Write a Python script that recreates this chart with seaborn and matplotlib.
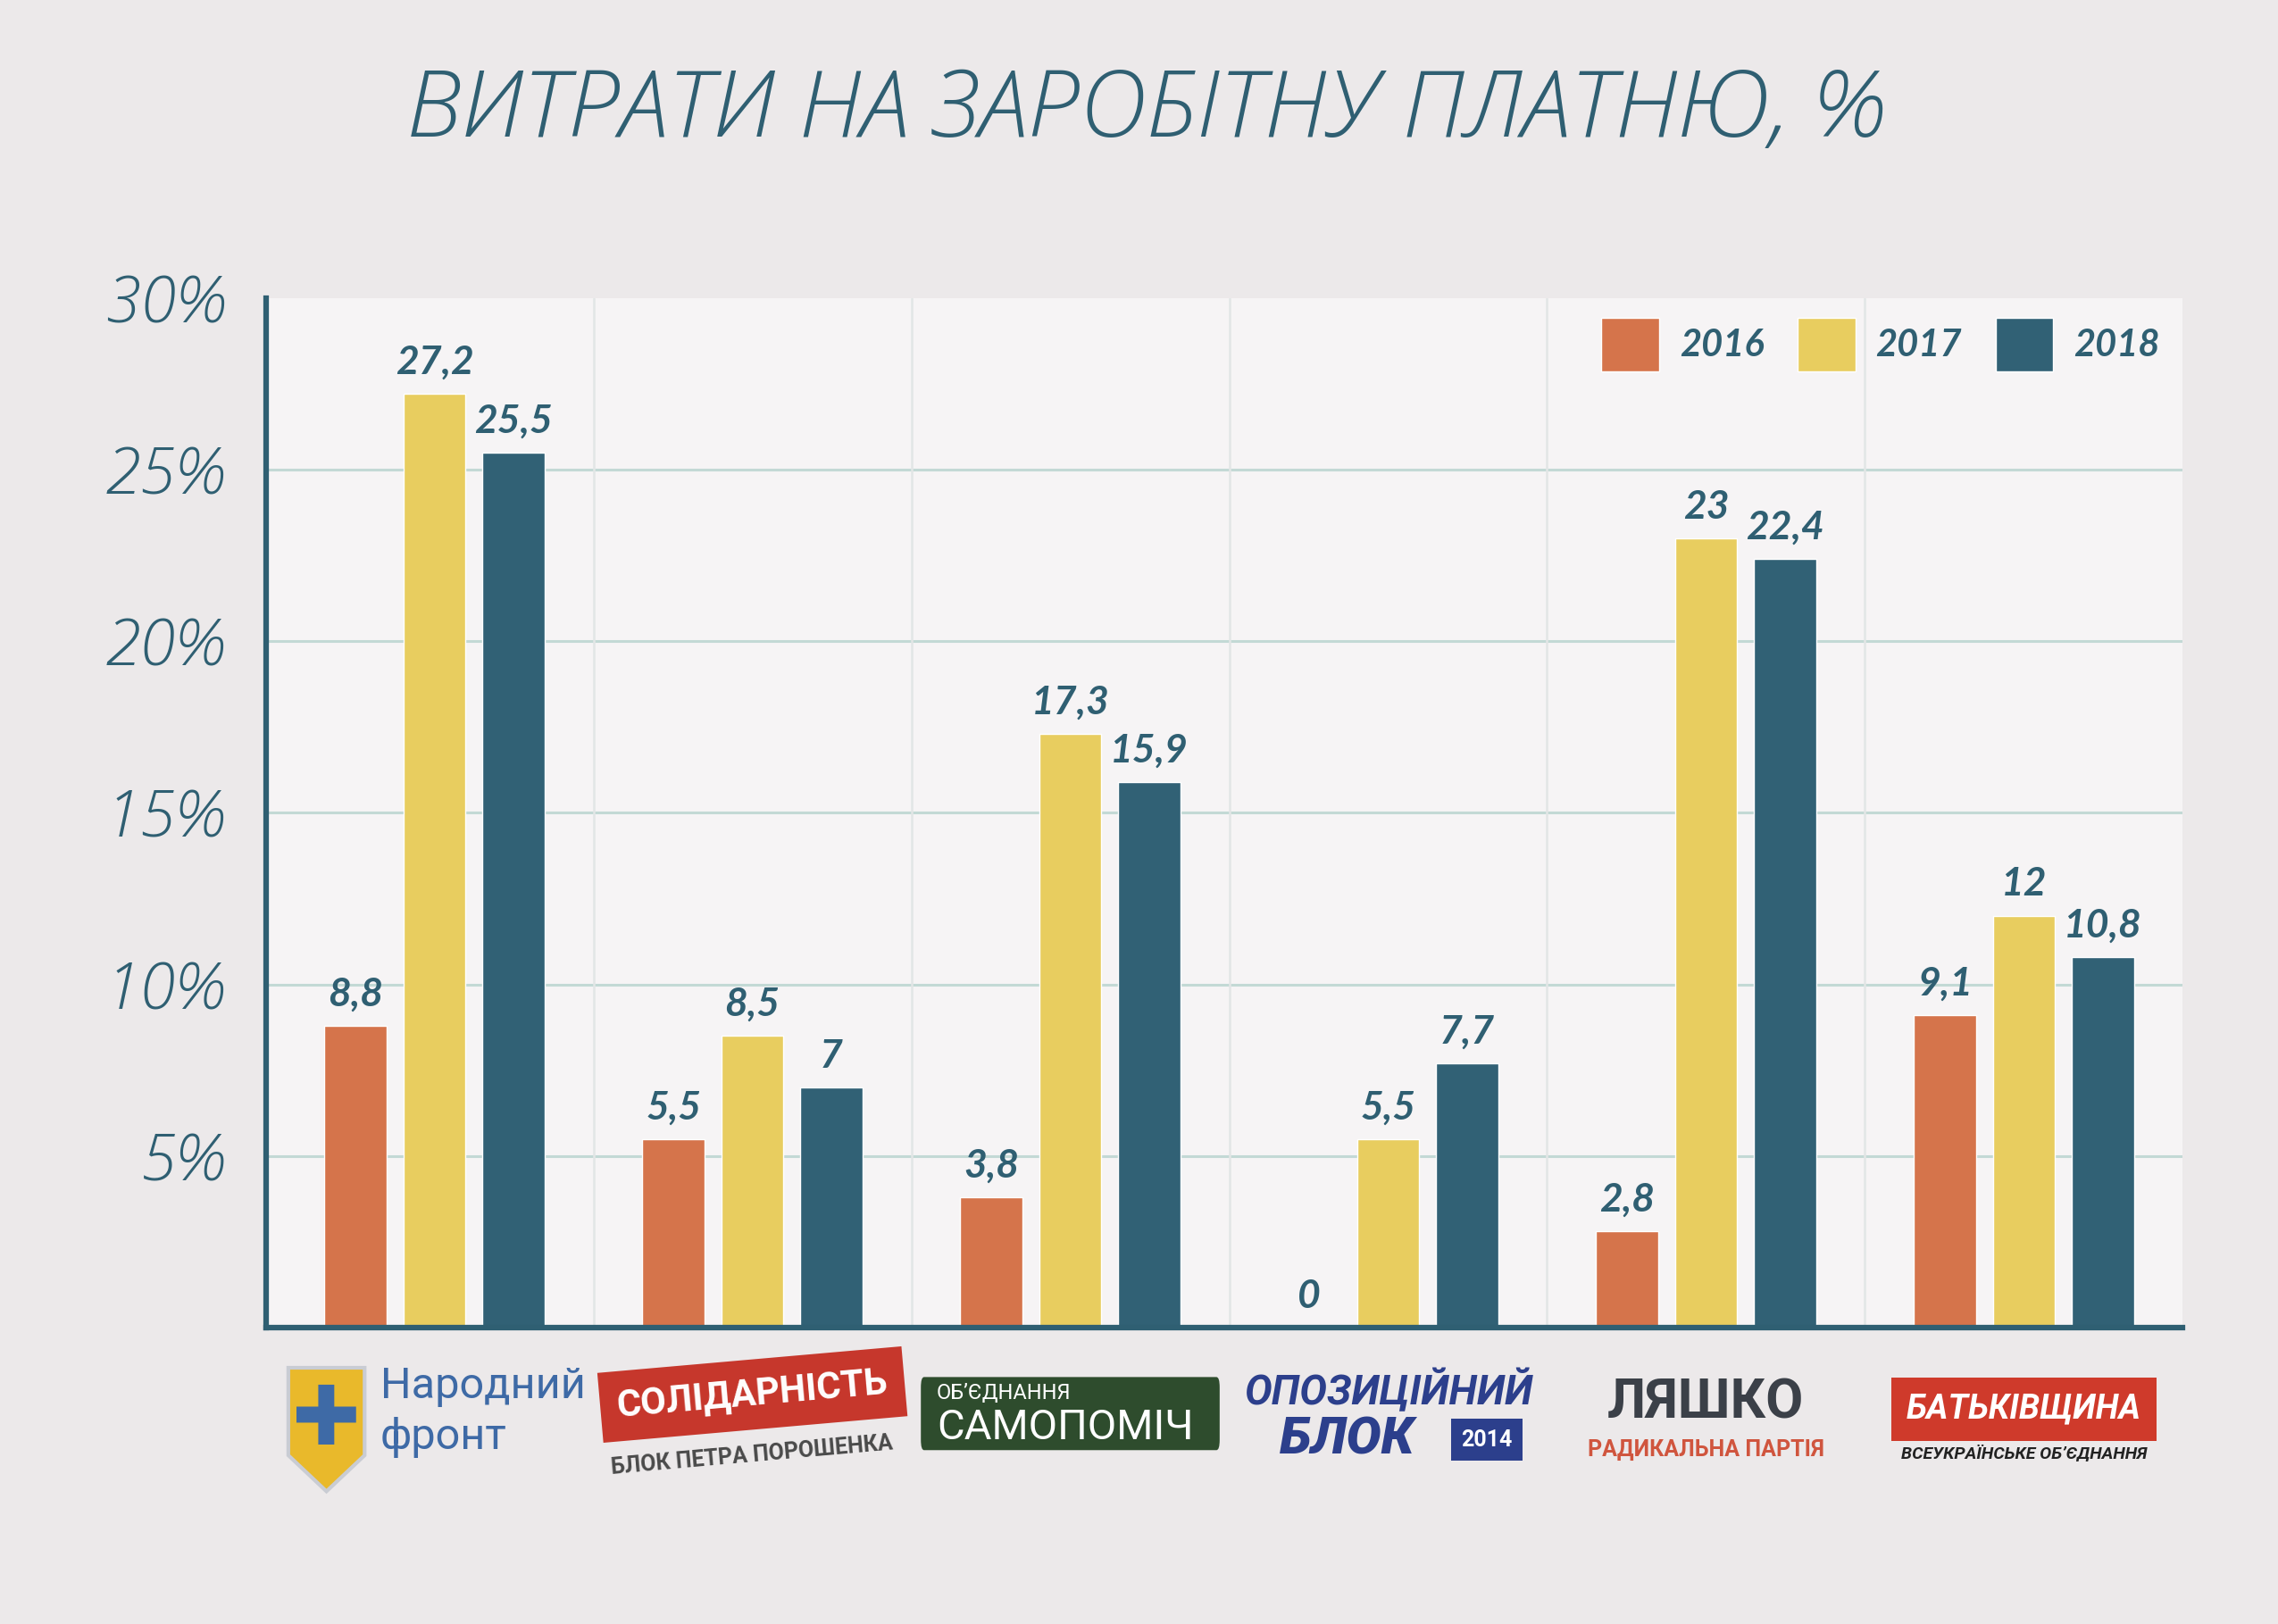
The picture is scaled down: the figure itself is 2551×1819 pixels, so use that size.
import pandas as pd
import numpy as np
import matplotlib.pyplot as plt
import matplotlib.patches as mpatches
import seaborn as sns

# data
parties = ['Народний фронт', 'Солідарність', 'Самопоміч',
           'Опозиційний блок', 'Радикальна партія', 'Батьківщина']
years = ['2016', '2017', '2018']
v2016 = [8.8, 5.5, 3.8, 0, 2.8, 9.1]
v2017 = [27.2, 8.5, 17.3, 5.5, 23, 12]
v2018 = [25.5, 7, 15.9, 7.7, 22.4, 10.8]
yticks = [5, 10, 15, 20, 25, 30]

df = pd.DataFrame({
    'party': parties * 3,
    'year': [y for y in years for _ in parties],
    'value': v2016 + v2017 + v2018,
})

TEAL = '#2F5F72'
colors = {'2016': '#D5744B', '2017': '#E8CD5F', '2018': '#316175'}
BG = '#ECE9EA'

sns.set_style('white')
plt.rcParams['font.family'] = ['Lato', 'DejaVu Sans']

fig = plt.figure(figsize=(25.51, 18.19), dpi=100, facecolor=BG)
ax = fig.add_axes([0.1168, 0.1825, 0.8414, 0.634])
ax.set_facecolor('#F6F4F5')

sns.barplot(data=df, x='party', y='value', hue='year', order=parties,
            hue_order=years, palette=colors, saturation=1,
            width=0.744, gap=0.21, ax=ax)

ax.set_xlim(-0.53, 5.5)
ax.set_ylim(0, 30)
ax.set_xlabel('')
ax.set_ylabel('')

# value labels
for cont in ax.containers:
    vals = [b.get_height() for b in cont]
    labels = [f'{v:g}'.replace('.', ',') for v in vals]
    ax.bar_label(cont, labels=labels, padding=11, fontsize=32,
                 fontweight='bold', fontstyle='italic', color=TEAL)

# axes styling
ax.set_yticks(yticks)
ax.set_yticklabels([f'{t}%' for t in yticks], fontsize=52,
                   fontstyle='italic', fontweight='light',
                   family=['Open Sans', 'DejaVu Sans'], color=TEAL)
ax.tick_params(axis='y', length=11, width=4.5, color=TEAL, pad=22)
ax.set_xticks(range(len(parties)))
ax.set_xticklabels([])
ax.tick_params(axis='x', length=0)
ax.set_xticks(np.arange(0.5, 5.5, 1), minor=True)
ax.tick_params(axis='x', which='minor', length=0)

for t in yticks[:-1]:
    ax.axhline(t, color='#C3D9D5', lw=2.2, zorder=0)
ax.grid(axis='x', which='minor', color='#E2E6E6', lw=1.8, zorder=0)
ax.set_axisbelow(True)

for s in ['top', 'right']:
    ax.spines[s].set_visible(False)
for s in ['left', 'bottom']:
    ax.spines[s].set_color(TEAL)
    ax.spines[s].set_linewidth(4.5)

# legend
handles, labs = ax.get_legend_handles_labels()
ax.legend(handles, labs, loc='upper right', bbox_to_anchor=(0.988, 0.981),
          ncol=3, frameon=False, borderpad=0, borderaxespad=0,
          handlelength=1.55, handleheight=1.85, handletextpad=0.55,
          columnspacing=0.9,
          prop={'size': 30, 'weight': 'bold', 'style': 'italic'},
          labelcolor=TEAL)

# title
fig.text(0.5026, 0.931, 'ВИТРАТИ НА ЗАРОБІТНУ ПЛАТНЮ, %', ha='center',
         va='center', fontsize=75, fontstyle='italic', fontweight='light',
         family=['Open Sans', 'DejaVu Sans'], color=TEAL)

# party "logos" below each group
tr = ax.get_xaxis_transform()
ly = -0.079
FONT = ['Roboto', 'DejaVu Sans']

# Народний фронт
ax.add_patch(mpatches.Polygon([[-0.46, ly + 0.04], [-0.22, ly + 0.04],
                               [-0.22, ly - 0.045], [-0.34, ly - 0.08],
                               [-0.46, ly - 0.045]], closed=True,
                              transform=tr, clip_on=False,
                              facecolor='#E9B92B', edgecolor='#C9CCD3', lw=3))
ax.text(-0.34, ly - 0.012, '✚', transform=tr, ha='center', va='center',
        fontsize=66, color='#3E6AA6', family='DejaVu Sans')
ax.text(-0.17, ly - 0.003, 'Народний\nфронт', transform=tr, ha='left',
        va='center', fontsize=35, color='#3E6AA6', family=FONT,
        linespacing=1.3)

# Солідарність
ax.text(1.0, ly + 0.014, 'СОЛІДАРНІСТЬ', transform=tr, ha='center',
        va='center', fontsize=30, fontweight='bold', color='white',
        rotation=5, family=FONT,
        bbox=dict(boxstyle='square,pad=0.45', fc='#C6372C', ec='none'))
ax.text(1.0, ly - 0.045, 'БЛОК ПЕТРА ПОРОШЕНКА', transform=tr, ha='center',
        va='center', fontsize=18, fontweight='bold', color='#4A4A4A',
        rotation=5, family=FONT)

# Самопоміч
ax.add_patch(mpatches.FancyBboxPatch((1.53, -0.119), 0.94, 0.071,
                                     boxstyle='round,pad=0,rounding_size=0.01',
                                     transform=tr, clip_on=False,
                                     fc='#2E4C2D', ec='none'))
ax.text(1.58, -0.064, 'ОБ’ЄДНАННЯ', transform=tr, ha='left', va='center',
        fontsize=17, color='white', family=FONT)
ax.text(1.58, -0.097, 'САМОПОМІЧ', transform=tr, ha='left', va='center',
        fontsize=34, color='white', family=FONT)

# Опозиційний блок
ax.text(3.0, ly + 0.018, 'ОПОЗИЦІЙНИЙ', transform=tr, ha='center',
        va='center', fontsize=33, fontweight='bold', fontstyle='italic',
        color='#2C3F8C', family=FONT)
ax.text(2.87, ly - 0.03, 'БЛОК', transform=tr, ha='center',
        va='center', fontsize=42, fontweight='black', fontstyle='italic',
        color='#2C3F8C', family=FONT)
ax.text(3.31, ly - 0.03, '2014', transform=tr, ha='center',
        va='center', fontsize=18, fontweight='bold', color='white',
        family=FONT,
        bbox=dict(boxstyle='square,pad=0.45', fc='#2C3F8C', ec='none'))

# Ляшко
ax.text(4.0, ly + 0.006, 'ЛЯШКО', transform=tr, ha='center', va='center',
        fontsize=44, fontweight='bold', color='#3B4048', family=FONT)
ax.text(4.0, ly - 0.04, 'РАДИКАЛЬНА ПАРТІЯ', transform=tr, ha='center',
        va='center', fontsize=18, fontweight='bold', color='#D0553E',
        family=FONT)

# Батьківщина
ax.text(5.0, ly + 0.0, 'БАТЬКІВЩИНА', transform=tr, ha='center',
        va='center', fontsize=27, fontweight='bold', fontstyle='italic',
        color='white', family=FONT,
        bbox=dict(boxstyle='square,pad=0.45', fc='#CF3A2B', ec='none'))
ax.text(5.0, ly - 0.044, 'ВСЕУКРАЇНСЬКЕ ОБ’ЄДНАННЯ', transform=tr,
        ha='center', va='center', fontsize=14, fontweight='bold',
        fontstyle='italic', color='#222222', family=FONT)

fig.savefig('out.png', dpi=100, facecolor=BG)
